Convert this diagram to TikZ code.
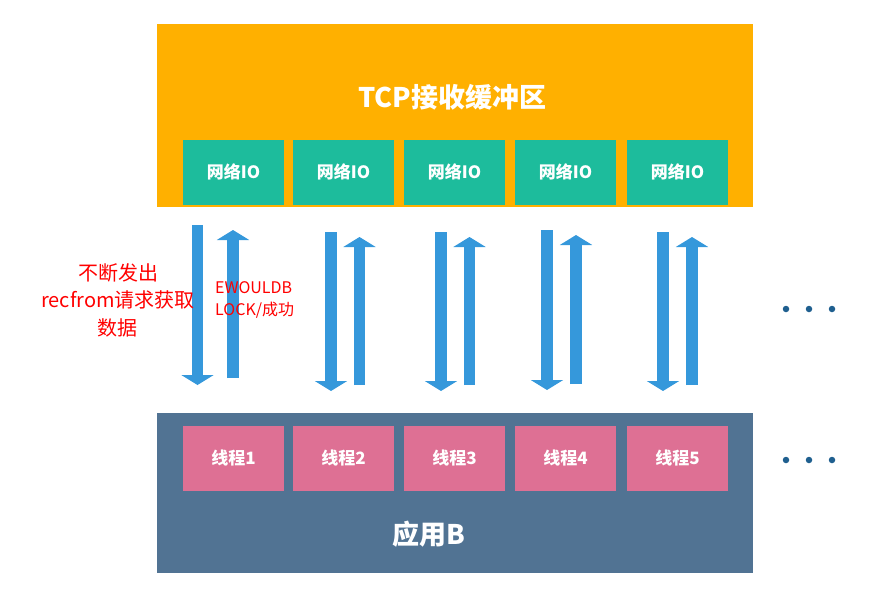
\documentclass[tikz,border=0pt]{standalone}
\usepackage{fontspec}
\newfontfamily\cjk{Noto Sans CJK SC}
\usetikzlibrary{arrows.meta}
\definecolor{bufcol}{HTML}{FFB000}
\definecolor{iocol}{HTML}{1DBC9C}
\definecolor{appcol}{HTML}{517393}
\definecolor{thrcol}{HTML}{DE7094}
\definecolor{flowcol}{HTML}{3598DB}
\definecolor{dotcol}{HTML}{1F5F8F}

\begin{document}
\begin{tikzpicture}[x=1pt, y=-1pt,
	big/.style={rectangle, inner sep=0pt, minimum width=596pt, text=white, font=\cjk\bfseries\fontsize{27}{30}\selectfont},
	small/.style={rectangle, inner sep=0pt, minimum width=101pt, minimum height=65pt, text=white, font=\cjk\bfseries\fontsize{17}{20}\selectfont},
	flow/.style={draw=flowcol, line width=11.5pt, -{Triangle[width=32pt, length=10pt]}},
	note/.style={text=red, inner sep=0pt},
	dot/.style={circle, fill=dotcol, inner sep=0pt, minimum size=6.5pt}]
		\useasboundingbox (0,0) rectangle (889,603);
		% Buffer on top and application below
		\path (455,115.5) node[big, fill=bufcol, minimum height=183pt](buf){}
		(455,493) node[big, fill=appcol, minimum height=160pt](app){};
		\path (452,97) node[big, minimum width=0pt](buftxt){TCP接收缓冲区}
		(429,534) node[big, minimum width=0pt](apptxt){应用B};
		% Network IO boxes
		\path (233.5,172) node[small, fill=iocol](io1){网络IO}
		(343.5,172) node[small, fill=iocol](io2){网络IO}
		(454.5,172) node[small, fill=iocol](io3){网络IO}
		(565.5,172) node[small, fill=iocol](io4){网络IO}
		(677.5,172) node[small, fill=iocol](io5){网络IO};
		% Threads
		\path (233.5,458) node[small, fill=thrcol](t1){线程1}
		(343.5,458) node[small, fill=thrcol](t2){线程2}
		(454.5,458) node[small, fill=thrcol](t3){线程3}
		(565.5,458) node[small, fill=thrcol](t4){线程4}
		(677.5,458) node[small, fill=thrcol](t5){线程5};
		% Requests going down, answers coming back up
		\coordinate (d1s) at (197.5,225); \coordinate (d1e) at (197.5,385);
		\coordinate (u1s) at (233,378); \coordinate (u1e) at (233,230);
		\coordinate (d2s) at (331,232); \coordinate (d2e) at (331,391);
		\coordinate (u2s) at (359.5,385); \coordinate (u2e) at (359.5,237);
		\coordinate (d3s) at (441,232); \coordinate (d3e) at (441,391);
		\coordinate (u3s) at (469.5,385); \coordinate (u3e) at (469.5,237);
		\coordinate (d4s) at (547,230); \coordinate (d4e) at (547,390);
		\coordinate (u4s) at (576,384); \coordinate (u4e) at (576,235);
		\coordinate (d5s) at (663,232); \coordinate (d5e) at (663,391);
		\coordinate (u5s) at (692,385); \coordinate (u5e) at (692,237);
		\draw[flow] (d1s) -- (d1e); \draw[flow] (u1s) -- (u1e);
		\draw[flow] (d2s) -- (d2e); \draw[flow] (u2s) -- (u2e);
		\draw[flow] (d3s) -- (d3e); \draw[flow] (u3s) -- (u3e);
		\draw[flow] (d4s) -- (d4e); \draw[flow] (u4s) -- (u4e);
		\draw[flow] (d5s) -- (d5e); \draw[flow] (u5s) -- (u5e);
		% Labels next to the first pair
		\path (118,300) node[note, align=center, font=\cjk\fontsize{20}{27.5}\selectfont](req){不断发出\\recfrom请求获取\\数据}
		(215,300) node[note, align=left, anchor=west, font=\cjk\fontsize{16}{22}\selectfont](ans){EWOULDB\\LOCK/成功};
		% More of the same
		\path (786,309) node[dot](a1){} (809,309) node[dot](a2){} (832,309) node[dot](a3){}
		(786,460) node[dot](b1){} (809,460) node[dot](b2){} (832,460) node[dot](b3){};
	\end{tikzpicture}
\end{document}
